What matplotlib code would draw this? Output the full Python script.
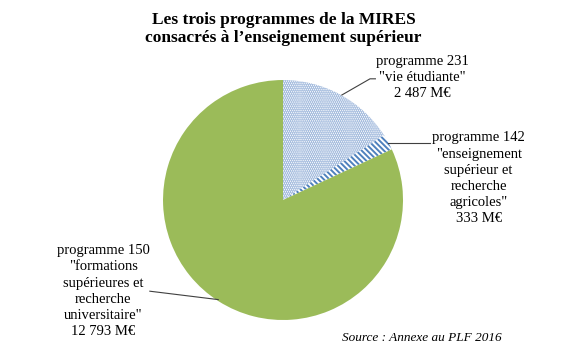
import matplotlib.pyplot as plt
import numpy as np

plt.rcParams['font.family'] = ['Liberation Serif', 'DejaVu Serif']
plt.rcParams['hatch.linewidth'] = 1.4

programmes = ['231', '142', '150']
intitules = ['"vie étudiante"',
             '"enseignement\nsupérieur et\nrecherche\nagricoles"',
             '"formations\nsupérieures et\nrecherche\nuniversitaire"']
montants = [2487, 333, 12793]
montants_txt = ['2 487 M€', '333 M€', '12 793 M€']

fig = plt.figure(figsize=(5.67, 3.55), dpi=100)
ax = fig.add_axes([0.2875, 0.0986, 0.4233, 0.676])

wedges, _ = ax.pie(montants, startangle=90, counterclock=False,
                   colors=['white', 'white', '#9bbb59'],
                   wedgeprops=dict(linewidth=0))
wedges[0].set_hatch('........')
wedges[0].set_edgecolor('#9fb8dc')
wedges[1].set_hatch('\\\\\\\\\\\\')
wedges[1].set_edgecolor('#4f81bd')
wedges[2].set_edgecolor('#9bbb59')

# label positions in axes data coords (radius = 1)
label_pos = [(1.16, 1.02), (1.63, 0.18), (-1.50, -0.76)]
line_pts = [[(0.49, 0.875), (0.725, 1.01), (0.77, 1.01)],
            [(0.875, 0.475), (1.225, 0.475)],
            [(-0.54, -0.83), (-1.11, -0.76)]]

for i in range(3):
    txt = 'programme ' + programmes[i] + '\n' + intitules[i] + '\n' + montants_txt[i]
    x, y = label_pos[i]
    ax.text(x, y, txt, ha='center', va='center', fontsize=10.5, linespacing=1.32)
    p = line_pts[i]
    ax.plot([q[0] for q in p], [q[1] for q in p], color='#404040', lw=0.8,
            clip_on=False)

ax.set_xlim(-1, 1)
ax.set_ylim(-1, 1)
ax.set_aspect('equal')

fig.text(0.5, 0.967, 'Les trois programmes de la MIRES\nconsacrés à l\u2019enseignement supérieur',
         ha='center', va='top', fontsize=12.5, fontweight='bold', linespacing=1.15)
fig.text(0.885, 0.03, 'Source : Annexe au PLF 2016', ha='right', va='bottom',
         fontsize=9.5, style='italic')

fig.savefig('out.png', dpi=100)
